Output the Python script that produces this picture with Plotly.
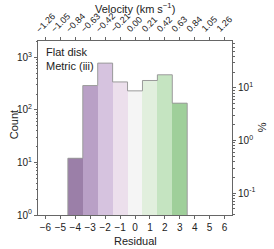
import math
import plotly.graph_objects as go

residual = [-4, -3, -2, -1, 0, 1, 2, 3]
counts = [12, 290, 775, 340, 230, 362, 465, 134]
colors = ["#9b7fa8", "#b9a0c6", "#d6c3df", "#ecdfec", "#f5f5f5", "#e1efdd", "#c5e4c1", "#9fcf9a"]
x_ticks = [-6, -5, -4, -3, -2, -1, 0, 1, 2, 3, 4, 5, 6]
velocity_labels = ["−1.26", "−1.05", "−0.84", "−0.63", "−0.42", "−0.21", "0.00",
                   "0.21", "0.42", "0.63", "0.84", "1.05", "1.26"]
count_ticks = [1, 10, 100, 1000]
pct_ticks = [0.1, 1, 10]

total = sum(counts)
ylog_range = [0, 3.31]
shift = math.log10(total / 100.0)

fig = go.Figure()
fig.add_trace(go.Bar(x=residual, y=counts, width=1.0, marker=dict(color=colors, line=dict(width=0)),
                     showlegend=False))

# step outline built from the bar data
sx, sy = [residual[0] - 0.5], [1]
for r, c in zip(residual, counts):
    sx += [r - 0.5, r + 0.5]
    sy += [c, c]
sx.append(residual[-1] + 0.5)
sy.append(1)
fig.add_trace(go.Scatter(x=sx, y=sy, mode="lines", line=dict(color="#9a9a9a", width=1),
                         showlegend=False, hoverinfo="skip"))
# invisible trace for secondary axes
fig.add_trace(go.Scatter(x=[0], y=[1], xaxis="x2", yaxis="y2", mode="markers",
                         marker=dict(opacity=0), showlegend=False, hoverinfo="skip"))

FAM = "Liberation Sans, Arial, sans-serif"
font = dict(family=FAM, size=10, color="#222")
tfont = dict(family=FAM, size=11, color="#222")
axcol = "#666"

annotations = [
    dict(text="Flat disk<br>Metric (iii)", x=0.03, y=0.98, xref="paper", yref="paper",
         xanchor="left", yanchor="top", showarrow=False, align="left", font=tfont),
    dict(text="Velocity (km s<sup>−1</sup>)", x=0.5, y=1.19, xref="paper", yref="paper",
         xanchor="center", yanchor="middle", showarrow=False, font=tfont),
    dict(text="Residual", x=0.5, y=-0.148, xref="paper", yref="paper",
         xanchor="center", yanchor="middle", showarrow=False, font=tfont),
    dict(text="Count", x=-0.125, y=0.52, xref="paper", yref="paper", textangle=-90,
         xanchor="center", yanchor="middle", showarrow=False, font=tfont),
    dict(text="%", x=1.155, y=0.505, xref="paper", yref="paper", textangle=-90,
         xanchor="center", yanchor="middle", showarrow=False, font=tfont),
]
for xv, lab in zip(x_ticks, velocity_labels):
    annotations.append(dict(text=lab, x=xv, y=1.03, xref="x", yref="paper", textangle=-45,
                            xanchor="center", yanchor="bottom", showarrow=False,
                            font=dict(family=FAM, size=9, color="#222"), borderpad=0))

fig.update_layout(
    width=274, height=249,
    margin=dict(l=38, r=42, t=41, b=34),
    paper_bgcolor="white", plot_bgcolor="white",
    font=font, bargap=0,
    xaxis=dict(range=[-6.5, 6.5], tickvals=x_ticks, ticktext=[str(v).replace("-", "−") for v in x_ticks],
               tickangle=0, automargin=False,
               ticks="outside", ticklen=3, tickcolor=axcol, showline=True, linecolor=axcol,
               showgrid=False, zeroline=False),
    yaxis=dict(type="log", range=ylog_range, tickvals=count_ticks, automargin=False,
               ticktext=["10<sup>0</sup>", "10<sup>1</sup>", "10<sup>2</sup>", "10<sup>3</sup>"],
               ticks="outside", ticklen=3, tickcolor=axcol, showline=True, linecolor=axcol,
               showgrid=False, zeroline=False,
               minor=dict(ticks="outside", ticklen=1.5, tickcolor=axcol, dtick="D1", showgrid=False)),
    xaxis2=dict(overlaying="x", side="top", anchor="y", range=[-6.5, 6.5], tickvals=x_ticks,
                showticklabels=False, automargin=False,
                ticks="outside", ticklen=3, tickcolor=axcol,
                showline=True, linecolor=axcol, showgrid=False, zeroline=False),
    yaxis2=dict(overlaying="y", side="right", anchor="x", type="log", automargin=False,
                range=[ylog_range[0] - shift, ylog_range[1] - shift], tickvals=pct_ticks,
                ticktext=["10<sup>-1</sup>", "10<sup>0</sup>", "10<sup>1</sup>"],
                ticks="outside", ticklen=3, tickcolor=axcol, showline=True, linecolor=axcol,
                showgrid=False, zeroline=False,
                minor=dict(ticks="outside", ticklen=1.5, tickcolor=axcol, dtick="D1", showgrid=False)),
    annotations=annotations,
)
fig.write_html("out.html", config={"displayModeBar": False},
               post_script="document.body.style.margin='0';")
